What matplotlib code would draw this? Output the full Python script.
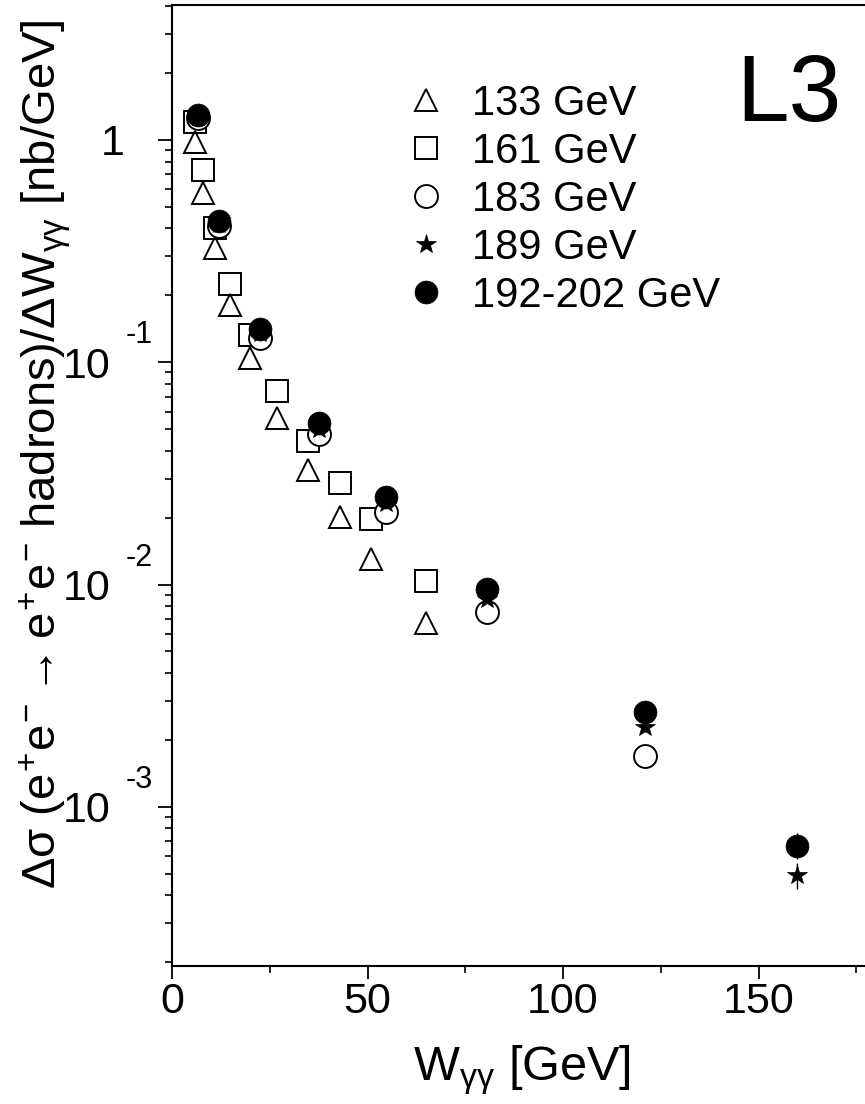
import matplotlib
matplotlib.use('Agg')
import matplotlib.pyplot as plt
import matplotlib.transforms as mtrans
from matplotlib.ticker import FixedLocator, LogLocator, NullFormatter, MultipleLocator

plt.rcParams['font.family'] = ['Liberation Sans', 'DejaVu Sans']
plt.rcParams['mathtext.fontset'] = 'custom'
plt.rcParams['mathtext.rm'] = 'Liberation Sans'
plt.rcParams['mathtext.it'] = 'Liberation Sans'
plt.rcParams['mathtext.bf'] = 'Liberation Sans:bold'

# ---------------- data ----------------
labels = ['133 GeV', '161 GeV', '183 GeV', '189 GeV', '192-202 GeV']

w_133 = [5.9, 8.0, 11.0, 14.8, 19.9, 26.9, 34.9, 43.0, 50.9, 64.9]
s_133 = [0.98, 0.58, 0.327, 0.181, 0.105, 0.0563, 0.0328, 0.0201, 0.0130, 0.00671]

w_161 = [5.9, 8.0, 11.0, 14.8, 19.9, 26.9, 34.9, 43.0, 50.9, 64.9]
s_161 = [1.20, 0.73, 0.40, 0.225, 0.132, 0.0743, 0.0444, 0.0286, 0.0197, 0.0104]

w_183 = [6.6, 12.1, 22.5, 37.7, 54.7, 80.5, 121.0]
s_183 = [1.25, 0.41, 0.128, 0.0475, 0.0213, 0.0075, 0.00169]
e_183 = [0.05, 0.02, 0.012, 0.002, 0.0008, 0.0003, 0.00007]

w_189 = [6.6, 12.1, 22.5, 37.7, 54.7, 80.5, 121.0, 159.8]
s_189 = [1.27, 0.42, 0.136, 0.050, 0.0232, 0.00863, 0.00229, 0.000494]
e_189 = [0.04, 0.02, 0.006, 0.002, 0.001, 0.0004, 0.00012, 0.000065]

w_192 = [6.6, 12.1, 22.5, 37.7, 54.7, 80.5, 121.0, 159.8]
s_192 = [1.29, 0.43, 0.141, 0.0531, 0.0248, 0.00951, 0.00267, 0.00067]
e_192 = [0.04, 0.05, 0.005, 0.002, 0.001, 0.0004, 0.00012, 0.00009]

ytick_exponents = [0, -1, -2, -3]
xtick_values = [0, 50, 100, 150]

# ---------------- figure ----------------
fig = plt.figure(figsize=(8.65, 11.04), dpi=100)
W, H = 865.0, 1104.0
x_left, x_scale = 172.0, 3.91
xmax = 190.0
ax = fig.add_axes([x_left / W, 1 - 966 / H, xmax * x_scale / W, (966 - 5) / H])

ax.set_yscale('log')
ax.set_xlim(0, xmax)
ax.set_ylim(1.923e-4, 4.05)

lw_m = 1.4
ax.errorbar(w_183, s_183, yerr=e_183, fmt='none', ecolor='black', elinewidth=1.0, capsize=0, zorder=2)
ax.errorbar(w_189, s_189, yerr=e_189, fmt='none', ecolor='black', elinewidth=1.0, capsize=0, zorder=2)
ax.errorbar(w_192, s_192, yerr=e_192, fmt='none', ecolor='black', elinewidth=1.0, capsize=0, zorder=2)

h1, = ax.plot(w_133, s_133, linestyle='none', marker='^', markersize=16.5, markerfacecolor='none',
              markeredgecolor='black', markeredgewidth=lw_m, label=labels[0], zorder=3)
h2, = ax.plot(w_161, s_161, linestyle='none', marker='s', markersize=16.0, markerfacecolor='none',
              markeredgecolor='black', markeredgewidth=lw_m, label=labels[1], zorder=3)
h3, = ax.plot(w_183, s_183, linestyle='none', marker='o', markersize=16.5, markerfacecolor='white',
              markeredgecolor='black', markeredgewidth=lw_m, label=labels[2], zorder=4)
h4, = ax.plot(w_189, s_189, linestyle='none', marker='*', markersize=14.5, markerfacecolor='black',
              markeredgecolor='black', markeredgewidth=0.5, label=labels[3], zorder=5)
h5, = ax.plot(w_192, s_192, linestyle='none', marker='o', markersize=16.5, markerfacecolor='black',
              markeredgecolor='black', markeredgewidth=0.5, label=labels[4], zorder=6)

# spines
for side in ['left', 'bottom', 'top']:
    ax.spines[side].set_linewidth(1.5)
ax.spines['right'].set_visible(False)

# x ticks
ax.xaxis.set_major_locator(FixedLocator(xtick_values))
ax.xaxis.set_minor_locator(MultipleLocator(25))
ax.set_xticklabels([str(v) for v in xtick_values])
ax.tick_params(axis='x', which='major', direction='out', length=9.5, width=1.3, labelsize=31, pad=2,
               top=False)
ax.tick_params(axis='x', which='minor', direction='out', length=5, width=1.2, top=False)

# y ticks
ax.yaxis.set_major_locator(FixedLocator([10.0 ** e for e in ytick_exponents]))
ax.yaxis.set_minor_locator(LogLocator(base=10, subs=range(2, 10)))
ax.yaxis.set_major_formatter(NullFormatter())
ax.yaxis.set_minor_formatter(NullFormatter())
ax.tick_params(axis='y', which='major', direction='out', length=10, width=1.3, right=False)
ax.tick_params(axis='y', which='minor', direction='out', length=5, width=1.2, right=False)

# y tick labels in the PAW style: "10" with exponent raised to the right
blend = mtrans.blended_transform_factory(fig.transFigure, ax.transData)
base_fs, exp_fs = 31, 22
base_em = base_fs * 100 / 72.0
exp_em = exp_fs * 100 / 72.0
for e in ytick_exponents:
    v = 10.0 ** e
    if e == 0:
        t = mtrans.offset_copy(blend, fig=fig, x=0, y=-0.358 * base_em, units='dots')
        ax.text(125 / W, v, '1', transform=t, ha='right', va='baseline', fontsize=base_fs)
    else:
        t = mtrans.offset_copy(blend, fig=fig, x=0, y=-0.358 * base_em, units='dots')
        ax.text(110 / W, v, '10', transform=t, ha='right', va='baseline', fontsize=base_fs)
        t2 = mtrans.offset_copy(blend, fig=fig, x=0, y=30 - 0.358 * exp_em, units='dots')
        ax.text(126 / W, v, str(e), transform=t2, ha='left', va='baseline', fontsize=exp_fs)

# axis titles
fig.text(45 / W, 1 - 454 / H,
         r'$\Delta\sigma\ (e^{+}e^{-}\rightarrow e^{+}e^{-}\ \mathrm{hadrons})/\Delta W_{\gamma\gamma}\ [\mathrm{nb/GeV}]$',
         rotation=90, ha='center', va='center', fontsize=34)
fig.text(522 / W, 1 - 1080 / H, r'$\mathrm{W}_{\gamma\gamma}\ [\mathrm{GeV}]$',
         ha='center', va='baseline', fontsize=35)

# L3 tag
fig.text(736 / W, 1 - 121 / H, 'L3', ha='left', va='baseline', fontsize=68)

# legend
ax.legend(handles=[h1, h2, h3, h4, h5], loc='upper left', bbox_to_anchor=(405 / W, 1 - 84 / H),
          bbox_transform=fig.transFigure, frameon=False, fontsize=30, handlelength=1.0,
          handletextpad=0.6, labelspacing=0.19, borderpad=0, borderaxespad=0, numpoints=1)

fig.savefig('out.png', dpi=100)
